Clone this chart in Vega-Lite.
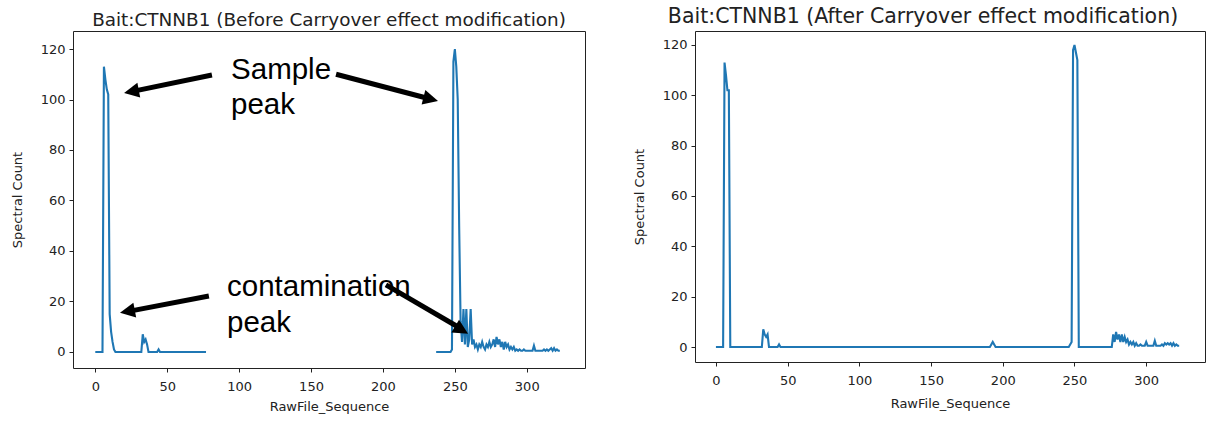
{
  "$schema": "https://vega.github.io/schema/vega-lite/v6.json",
  "padding": {"left": 10, "top": 6, "right": 0, "bottom": 0},
  "spacing": 46,
  "config": {
    "view": {"stroke": "#222", "strokeWidth": 1},
    "axis": {"grid": false, "domain": false, "tickColor": "#222", "tickSize": 4, "tickWidth": 1, "labelFont": "DejaVu Sans", "labelFontSize": 13, "labelColor": "#222", "titleFont": "DejaVu Sans", "titleFontSize": 13, "titleFontWeight": "normal", "titleColor": "#222"},
    "axisX": {"labelPadding": 8, "titlePadding": 7},
    "axisY": {"labelPadding": 4, "titlePadding": 16},
    "title": {"font": "DejaVu Sans", "fontSize": 18.4, "fontWeight": "normal", "color": "#222", "anchor": "middle"}
  },
  "datasets": {
    "before": [
      {"run":"A","seq":0,"count":0},{"run":"A","seq":1,"count":0},{"run":"A","seq":2,"count":0},{"run":"A","seq":3,"count":0},{"run":"A","seq":4,"count":0},{"run":"A","seq":5,"count":0},{"run":"A","seq":6,"count":113},{"run":"A","seq":7,"count":108},{"run":"A","seq":8,"count":104},{"run":"A","seq":9,"count":102},{"run":"A","seq":10,"count":15},{"run":"A","seq":11,"count":8},{"run":"A","seq":12,"count":4},{"run":"A","seq":13,"count":1},{"run":"A","seq":14,"count":0},{"run":"A","seq":15,"count":0},{"run":"A","seq":16,"count":0},{"run":"A","seq":17,"count":0},{"run":"A","seq":18,"count":0},{"run":"A","seq":19,"count":0},{"run":"A","seq":20,"count":0},{"run":"A","seq":21,"count":0},{"run":"A","seq":22,"count":0},{"run":"A","seq":23,"count":0},{"run":"A","seq":24,"count":0},{"run":"A","seq":25,"count":0},{"run":"A","seq":26,"count":0},{"run":"A","seq":27,"count":0},{"run":"A","seq":28,"count":0},{"run":"A","seq":29,"count":0},{"run":"A","seq":30,"count":0},{"run":"A","seq":31,"count":0},{"run":"A","seq":32,"count":0},{"run":"A","seq":33,"count":7},{"run":"A","seq":34,"count":4},{"run":"A","seq":35,"count":5},{"run":"A","seq":36,"count":3},{"run":"A","seq":37,"count":0},{"run":"A","seq":38,"count":0},{"run":"A","seq":39,"count":0},{"run":"A","seq":40,"count":0},{"run":"A","seq":41,"count":0},{"run":"A","seq":42,"count":0},{"run":"A","seq":43,"count":0},{"run":"A","seq":44,"count":1},{"run":"A","seq":45,"count":0},{"run":"A","seq":46,"count":0},{"run":"A","seq":47,"count":0},{"run":"A","seq":48,"count":0},{"run":"A","seq":49,"count":0},{"run":"A","seq":50,"count":0},{"run":"A","seq":51,"count":0},{"run":"A","seq":52,"count":0},{"run":"A","seq":53,"count":0},{"run":"A","seq":54,"count":0},{"run":"A","seq":55,"count":0},{"run":"A","seq":56,"count":0},{"run":"A","seq":57,"count":0},{"run":"A","seq":58,"count":0},{"run":"A","seq":59,"count":0},{"run":"A","seq":60,"count":0},{"run":"A","seq":61,"count":0},{"run":"A","seq":62,"count":0},{"run":"A","seq":63,"count":0},{"run":"A","seq":64,"count":0},{"run":"A","seq":65,"count":0},{"run":"A","seq":66,"count":0},{"run":"A","seq":67,"count":0},{"run":"A","seq":68,"count":0},{"run":"A","seq":69,"count":0},{"run":"A","seq":70,"count":0},{"run":"A","seq":71,"count":0},{"run":"A","seq":72,"count":0},{"run":"A","seq":73,"count":0},{"run":"A","seq":74,"count":0},{"run":"A","seq":75,"count":0},{"run":"A","seq":76,"count":0},{"run":"A","seq":77,"count":0},
      {"run":"B","seq":237,"count":0},{"run":"B","seq":238,"count":0},{"run":"B","seq":239,"count":0},{"run":"B","seq":240,"count":0},{"run":"B","seq":241,"count":0},{"run":"B","seq":242,"count":0},{"run":"B","seq":243,"count":0},{"run":"B","seq":244,"count":0},{"run":"B","seq":245,"count":0},{"run":"B","seq":246,"count":0},{"run":"B","seq":247,"count":0},{"run":"B","seq":248,"count":1},{"run":"B","seq":249,"count":115},{"run":"B","seq":250,"count":120},{"run":"B","seq":251,"count":113},{"run":"B","seq":252,"count":100},{"run":"B","seq":253,"count":50},{"run":"B","seq":254,"count":12},{"run":"B","seq":255,"count":4},{"run":"B","seq":256,"count":17},{"run":"B","seq":257,"count":3},{"run":"B","seq":258,"count":17},{"run":"B","seq":259,"count":2},{"run":"B","seq":260,"count":5},{"run":"B","seq":261,"count":17},{"run":"B","seq":262,"count":3},{"run":"B","seq":263,"count":5},{"run":"B","seq":264,"count":2},{"run":"B","seq":265,"count":3},{"run":"B","seq":266,"count":1},{"run":"B","seq":267,"count":3},{"run":"B","seq":268,"count":2},{"run":"B","seq":269,"count":4},{"run":"B","seq":270,"count":2},{"run":"B","seq":271,"count":1},{"run":"B","seq":272,"count":3},{"run":"B","seq":273,"count":2},{"run":"B","seq":274,"count":4},{"run":"B","seq":275,"count":2},{"run":"B","seq":276,"count":3},{"run":"B","seq":277,"count":5},{"run":"B","seq":278,"count":2},{"run":"B","seq":279,"count":6},{"run":"B","seq":280,"count":3},{"run":"B","seq":281,"count":5},{"run":"B","seq":282,"count":2},{"run":"B","seq":283,"count":4},{"run":"B","seq":284,"count":1},{"run":"B","seq":285,"count":4},{"run":"B","seq":286,"count":2},{"run":"B","seq":287,"count":3},{"run":"B","seq":288,"count":1},{"run":"B","seq":289,"count":2},{"run":"B","seq":290,"count":1},{"run":"B","seq":291,"count":2},{"run":"B","seq":292,"count":0.5},{"run":"B","seq":293,"count":1},{"run":"B","seq":294,"count":0.5},{"run":"B","seq":295,"count":1},{"run":"B","seq":296,"count":0.5},{"run":"B","seq":297,"count":0.5},{"run":"B","seq":298,"count":1},{"run":"B","seq":299,"count":0.5},{"run":"B","seq":300,"count":0.5},{"run":"B","seq":301,"count":0.5},{"run":"B","seq":302,"count":0.5},{"run":"B","seq":303,"count":0.5},{"run":"B","seq":304,"count":0.5},{"run":"B","seq":305,"count":2.5},{"run":"B","seq":306,"count":0.5},{"run":"B","seq":307,"count":0.5},{"run":"B","seq":308,"count":0.5},{"run":"B","seq":309,"count":0.5},{"run":"B","seq":310,"count":0.5},{"run":"B","seq":311,"count":0.5},{"run":"B","seq":312,"count":1},{"run":"B","seq":313,"count":0.5},{"run":"B","seq":314,"count":1},{"run":"B","seq":315,"count":0.5},{"run":"B","seq":316,"count":1},{"run":"B","seq":317,"count":1.5},{"run":"B","seq":318,"count":0.5},{"run":"B","seq":319,"count":1.5},{"run":"B","seq":320,"count":0.5},{"run":"B","seq":321,"count":1},{"run":"B","seq":322,"count":0.5},{"run":"B","seq":323,"count":0.5}
    ],
    "after": [
      {"seq":0,"count":0},{"seq":1,"count":0},{"seq":2,"count":0},{"seq":3,"count":0},{"seq":4,"count":0},{"seq":5,"count":0},{"seq":6,"count":113},{"seq":7,"count":108},{"seq":8,"count":102},{"seq":9,"count":102},{"seq":10,"count":0},{"seq":11,"count":0},{"seq":12,"count":0},{"seq":13,"count":0},{"seq":14,"count":0},{"seq":15,"count":0},{"seq":16,"count":0},{"seq":17,"count":0},{"seq":18,"count":0},{"seq":19,"count":0},{"seq":20,"count":0},{"seq":21,"count":0},{"seq":22,"count":0},{"seq":23,"count":0},{"seq":24,"count":0},{"seq":25,"count":0},{"seq":26,"count":0},{"seq":27,"count":0},{"seq":28,"count":0},{"seq":29,"count":0},{"seq":30,"count":0},{"seq":31,"count":0},{"seq":32,"count":0},{"seq":33,"count":7},{"seq":34,"count":5},{"seq":35,"count":4},{"seq":36,"count":5},{"seq":37,"count":0},{"seq":38,"count":0},{"seq":39,"count":0},{"seq":40,"count":0},{"seq":41,"count":0},{"seq":42,"count":0},{"seq":43,"count":0},{"seq":44,"count":1},{"seq":45,"count":0},{"seq":46,"count":0},{"seq":47,"count":0},{"seq":48,"count":0},{"seq":49,"count":0},
      {"seq":50,"count":0},{"seq":51,"count":0},{"seq":52,"count":0},{"seq":53,"count":0},{"seq":54,"count":0},{"seq":55,"count":0},{"seq":56,"count":0},{"seq":57,"count":0},{"seq":58,"count":0},{"seq":59,"count":0},{"seq":60,"count":0},{"seq":61,"count":0},{"seq":62,"count":0},{"seq":63,"count":0},{"seq":64,"count":0},{"seq":65,"count":0},{"seq":66,"count":0},{"seq":67,"count":0},{"seq":68,"count":0},{"seq":69,"count":0},{"seq":70,"count":0},{"seq":71,"count":0},{"seq":72,"count":0},{"seq":73,"count":0},{"seq":74,"count":0},{"seq":75,"count":0},{"seq":76,"count":0},{"seq":77,"count":0},{"seq":78,"count":0},{"seq":79,"count":0},{"seq":80,"count":0},{"seq":81,"count":0},{"seq":82,"count":0},{"seq":83,"count":0},{"seq":84,"count":0},{"seq":85,"count":0},{"seq":86,"count":0},{"seq":87,"count":0},{"seq":88,"count":0},{"seq":89,"count":0},{"seq":90,"count":0},{"seq":91,"count":0},{"seq":92,"count":0},{"seq":93,"count":0},{"seq":94,"count":0},{"seq":95,"count":0},{"seq":96,"count":0},{"seq":97,"count":0},{"seq":98,"count":0},{"seq":99,"count":0},
      {"seq":100,"count":0},{"seq":101,"count":0},{"seq":102,"count":0},{"seq":103,"count":0},{"seq":104,"count":0},{"seq":105,"count":0},{"seq":106,"count":0},{"seq":107,"count":0},{"seq":108,"count":0},{"seq":109,"count":0},{"seq":110,"count":0},{"seq":111,"count":0},{"seq":112,"count":0},{"seq":113,"count":0},{"seq":114,"count":0},{"seq":115,"count":0},{"seq":116,"count":0},{"seq":117,"count":0},{"seq":118,"count":0},{"seq":119,"count":0},{"seq":120,"count":0},{"seq":121,"count":0},{"seq":122,"count":0},{"seq":123,"count":0},{"seq":124,"count":0},{"seq":125,"count":0},{"seq":126,"count":0},{"seq":127,"count":0},{"seq":128,"count":0},{"seq":129,"count":0},{"seq":130,"count":0},{"seq":131,"count":0},{"seq":132,"count":0},{"seq":133,"count":0},{"seq":134,"count":0},{"seq":135,"count":0},{"seq":136,"count":0},{"seq":137,"count":0},{"seq":138,"count":0},{"seq":139,"count":0},{"seq":140,"count":0},{"seq":141,"count":0},{"seq":142,"count":0},{"seq":143,"count":0},{"seq":144,"count":0},{"seq":145,"count":0},{"seq":146,"count":0},{"seq":147,"count":0},{"seq":148,"count":0},{"seq":149,"count":0},
      {"seq":150,"count":0},{"seq":151,"count":0},{"seq":152,"count":0},{"seq":153,"count":0},{"seq":154,"count":0},{"seq":155,"count":0},{"seq":156,"count":0},{"seq":157,"count":0},{"seq":158,"count":0},{"seq":159,"count":0},{"seq":160,"count":0},{"seq":161,"count":0},{"seq":162,"count":0},{"seq":163,"count":0},{"seq":164,"count":0},{"seq":165,"count":0},{"seq":166,"count":0},{"seq":167,"count":0},{"seq":168,"count":0},{"seq":169,"count":0},{"seq":170,"count":0},{"seq":171,"count":0},{"seq":172,"count":0},{"seq":173,"count":0},{"seq":174,"count":0},{"seq":175,"count":0},{"seq":176,"count":0},{"seq":177,"count":0},{"seq":178,"count":0},{"seq":179,"count":0},{"seq":180,"count":0},{"seq":181,"count":0},{"seq":182,"count":0},{"seq":183,"count":0},{"seq":184,"count":0},{"seq":185,"count":0},{"seq":186,"count":0},{"seq":187,"count":0},{"seq":188,"count":0},{"seq":189,"count":0},{"seq":190,"count":0},{"seq":191,"count":0},{"seq":192,"count":1},{"seq":193,"count":2},{"seq":194,"count":1},{"seq":195,"count":0},{"seq":196,"count":0},{"seq":197,"count":0},{"seq":198,"count":0},{"seq":199,"count":0},
      {"seq":200,"count":0},{"seq":201,"count":0},{"seq":202,"count":0},{"seq":203,"count":0},{"seq":204,"count":0},{"seq":205,"count":0},{"seq":206,"count":0},{"seq":207,"count":0},{"seq":208,"count":0},{"seq":209,"count":0},{"seq":210,"count":0},{"seq":211,"count":0},{"seq":212,"count":0},{"seq":213,"count":0},{"seq":214,"count":0},{"seq":215,"count":0},{"seq":216,"count":0},{"seq":217,"count":0},{"seq":218,"count":0},{"seq":219,"count":0},{"seq":220,"count":0},{"seq":221,"count":0},{"seq":222,"count":0},{"seq":223,"count":0},{"seq":224,"count":0},{"seq":225,"count":0},{"seq":226,"count":0},{"seq":227,"count":0},{"seq":228,"count":0},{"seq":229,"count":0},{"seq":230,"count":0},{"seq":231,"count":0},{"seq":232,"count":0},{"seq":233,"count":0},{"seq":234,"count":0},{"seq":235,"count":0},{"seq":236,"count":0},{"seq":237,"count":0},{"seq":238,"count":0},{"seq":239,"count":0},{"seq":240,"count":0},{"seq":241,"count":0},{"seq":242,"count":0},{"seq":243,"count":0},{"seq":244,"count":0},{"seq":245,"count":0},{"seq":246,"count":0},{"seq":247,"count":1},{"seq":248,"count":2},{"seq":249,"count":118},
      {"seq":250,"count":120},{"seq":251,"count":117},{"seq":252,"count":114},{"seq":253,"count":0},{"seq":254,"count":0},{"seq":255,"count":0},{"seq":256,"count":0},{"seq":257,"count":0},{"seq":258,"count":0},{"seq":259,"count":0},{"seq":260,"count":0},{"seq":261,"count":0},{"seq":262,"count":0},{"seq":263,"count":0},{"seq":264,"count":0},{"seq":265,"count":0},{"seq":266,"count":0},{"seq":267,"count":0},{"seq":268,"count":0},{"seq":269,"count":0},{"seq":270,"count":0},{"seq":271,"count":0},{"seq":272,"count":0},{"seq":273,"count":0},{"seq":274,"count":0},{"seq":275,"count":0},{"seq":276,"count":0},{"seq":277,"count":5},{"seq":278,"count":2},{"seq":279,"count":6},{"seq":280,"count":3},{"seq":281,"count":5},{"seq":282,"count":2},{"seq":283,"count":5},{"seq":284,"count":2},{"seq":285,"count":4},{"seq":286,"count":2},{"seq":287,"count":3},{"seq":288,"count":1},{"seq":289,"count":2},{"seq":290,"count":1},{"seq":291,"count":2},{"seq":292,"count":0.5},{"seq":293,"count":1.5},{"seq":294,"count":0.5},{"seq":295,"count":0.5},{"seq":296,"count":1},{"seq":297,"count":0.5},{"seq":298,"count":0.5},{"seq":299,"count":0.5},
      {"seq":300,"count":2},{"seq":301,"count":0.5},{"seq":302,"count":0.5},{"seq":303,"count":0.5},{"seq":304,"count":0.5},{"seq":305,"count":0.5},{"seq":306,"count":2.5},{"seq":307,"count":0.5},{"seq":308,"count":0.5},{"seq":309,"count":0.5},{"seq":310,"count":0.5},{"seq":311,"count":1},{"seq":312,"count":0.5},{"seq":313,"count":1.5},{"seq":314,"count":1},{"seq":315,"count":1.5},{"seq":316,"count":1},{"seq":317,"count":1.5},{"seq":318,"count":0.5},{"seq":319,"count":1.5},{"seq":320,"count":0.5},{"seq":321,"count":1},{"seq":322,"count":0.5},{"seq":323,"count":0.5}
    ],
    "notes": [
      {"label":"Sample","seq":94.4,"count":108.1},
      {"label":"peak","seq":94.4,"count":94.2},
      {"label":"contamination","seq":91.6,"count":22.2},
      {"label":"peak","seq":91.6,"count":7.95}
    ],
    "arrows": [
      {"arrow":"a1","seq":81.1,"count":109.7,"neckSeq":26.8,"neckCount":103.3,"tipSeq":20.0,"tipCount":102.6},
      {"arrow":"a2","seq":167.4,"count":110.0,"neckSeq":231.6,"neckCount":100.4,"tipSeq":238.3,"tipCount":99.4},
      {"arrow":"a3","seq":79.0,"count":22.2,"neckSeq":24.0,"neckCount":16.2,"tipSeq":17.2,"tipCount":15.5},
      {"arrow":"a4","seq":202.1,"count":26.6,"neckSeq":253.2,"neckCount":9.6,"tipSeq":259.2,"tipCount":7.2}
    ]
  },
  "hconcat": [
    {
      "width": 512,
      "height": 337,
      "title": {"text": "Bait:CTNNB1 (Before Carryover effect modification)", "offset": 2},
      "layer": [
        {
          "data": {"name": "before"},
          "mark": {"type": "line", "color": "#1f77b4", "strokeWidth": 2.1},
          "encoding": {
            "x": {"field": "seq", "type": "quantitative", "scale": {"domain": [-15.5, 340.5], "nice": false, "zero": false}, "axis": {"title": "RawFile_Sequence", "values": [0, 50, 100, 150, 200, 250, 300]}},
            "y": {"field": "count", "type": "quantitative", "scale": {"domain": [-6.34, 127.13], "nice": false, "zero": false}, "axis": {"title": "Spectral Count", "values": [0, 20, 40, 60, 80, 100, 120]}},
            "detail": {"field": "run", "type": "nominal"}
          }
        },
        {
          "data": {"name": "notes"},
          "mark": {"type": "text", "align": "left", "baseline": "alphabetic", "font": "Liberation Sans", "fontSize": 29.5, "color": "#000"},
          "encoding": {
            "x": {"field": "seq", "type": "quantitative"},
            "y": {"field": "count", "type": "quantitative"},
            "text": {"field": "label"}
          }
        },
        {
          "data": {"name": "arrows"},
          "mark": {"type": "rule", "color": "#000", "strokeWidth": 5},
          "encoding": {
            "x": {"field": "seq", "type": "quantitative"},
            "y": {"field": "count", "type": "quantitative"},
            "x2": {"field": "neckSeq"},
            "y2": {"field": "neckCount"}
          }
        },
        {
          "data": {"name": "arrows"},
          "transform": [{"filter": "datum.arrow === 'a1'"}],
          "mark": {"type": "point", "shape": "M0,0L-1,-0.5L-1,0.5Z", "filled": true, "color": "#000", "opacity": 1, "size": 900, "angle": 169.1},
          "encoding": {"x": {"field": "tipSeq", "type": "quantitative"}, "y": {"field": "tipCount", "type": "quantitative"}}
        },
        {
          "data": {"name": "arrows"},
          "transform": [{"filter": "datum.arrow === 'a2'"}],
          "mark": {"type": "point", "shape": "M0,0L-1,-0.5L-1,0.5Z", "filled": true, "color": "#000", "opacity": 1, "size": 900, "angle": 14.3},
          "encoding": {"x": {"field": "tipSeq", "type": "quantitative"}, "y": {"field": "tipCount", "type": "quantitative"}}
        },
        {
          "data": {"name": "arrows"},
          "transform": [{"filter": "datum.arrow === 'a3'"}],
          "mark": {"type": "point", "shape": "M0,0L-1,-0.5L-1,0.5Z", "filled": true, "color": "#000", "opacity": 1, "size": 900, "angle": 169.2},
          "encoding": {"x": {"field": "tipSeq", "type": "quantitative"}, "y": {"field": "tipCount", "type": "quantitative"}}
        },
        {
          "data": {"name": "arrows"},
          "transform": [{"filter": "datum.arrow === 'a4'"}],
          "mark": {"type": "point", "shape": "M0,0L-1,-0.5L-1,0.5Z", "filled": true, "color": "#000", "opacity": 1, "size": 900, "angle": 30.9},
          "encoding": {"x": {"field": "tipSeq", "type": "quantitative"}, "y": {"field": "tipCount", "type": "quantitative"}}
        }
      ]
    },
    {
      "width": 510,
      "height": 331,
      "title": {"text": "Bait:CTNNB1 (After Carryover effect modification)", "offset": 4, "fontSize": 20.5, "dx": -27},
      "data": {"name": "after"},
      "mark": {"type": "line", "color": "#1f77b4", "strokeWidth": 2.1},
      "encoding": {
        "x": {"field": "seq", "type": "quantitative", "scale": {"domain": [-14.6, 341.0], "nice": false, "zero": false}, "axis": {"title": "RawFile_Sequence", "titlePadding": 10, "values": [0, 50, 100, 150, 200, 250, 300]}},
        "y": {"field": "count", "type": "quantitative", "scale": {"domain": [-5.96, 125.56], "nice": false, "zero": false}, "axis": {"title": "Spectral Count", "values": [0, 20, 40, 60, 80, 100, 120]}}
      }
    }
  ]
}
